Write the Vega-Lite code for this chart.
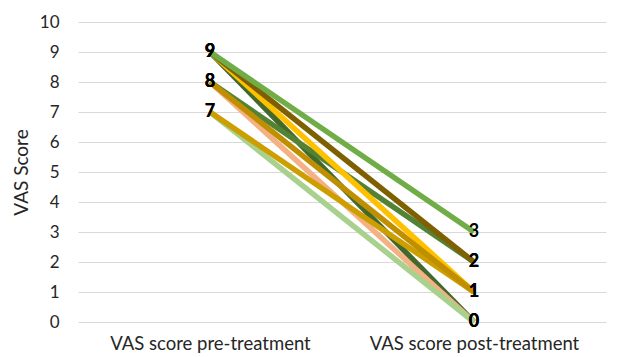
{
  "$schema": "https://vega.github.io/schema/vega-lite/v6.json",
  "width": 528,
  "height": 300,
  "autosize": "none",
  "padding": {"left": 78, "top": 22, "right": 16, "bottom": 35},
  "background": "white",
  "config": {
    "font": "Lato",
    "view": {"stroke": null},
    "axis": {"labelFont": "Lato", "titleFont": "Lato", "labelColor": "#262626", "titleColor": "#262626"}
  },
  "data": {
    "values": [
      {"s": "S1", "t": "VAS score pre-treatment", "v": 9},
      {"s": "S1", "t": "VAS score post-treatment", "v": 0},
      {"s": "S2", "t": "VAS score pre-treatment", "v": 8},
      {"s": "S2", "t": "VAS score post-treatment", "v": 2},
      {"s": "S3", "t": "VAS score pre-treatment", "v": 8},
      {"s": "S3", "t": "VAS score post-treatment", "v": 0},
      {"s": "S4", "t": "VAS score pre-treatment", "v": 7},
      {"s": "S4", "t": "VAS score post-treatment", "v": 0},
      {"s": "S5", "t": "VAS score pre-treatment", "v": 7},
      {"s": "S5", "t": "VAS score post-treatment", "v": 1},
      {"s": "S6", "t": "VAS score pre-treatment", "v": 9},
      {"s": "S6", "t": "VAS score post-treatment", "v": 1},
      {"s": "S7", "t": "VAS score pre-treatment", "v": 8},
      {"s": "S7", "t": "VAS score post-treatment", "v": 1},
      {"s": "S8", "t": "VAS score pre-treatment", "v": 9},
      {"s": "S8", "t": "VAS score post-treatment", "v": 2},
      {"s": "S9", "t": "VAS score pre-treatment", "v": 9},
      {"s": "S9", "t": "VAS score post-treatment", "v": 3}
    ]
  },
  "encoding": {
    "x": {
      "field": "t", "type": "nominal",
      "sort": ["VAS score pre-treatment", "VAS score post-treatment"],
      "scale": {"paddingInner": 0, "paddingOuter": 0},
      "axis": {"title": null, "labelAngle": 0, "labelFontSize": 18.5, "labelPadding": 12, "labelLimit": 400, "ticks": false, "domain": false, "grid": false}
    },
    "y": {
      "field": "v", "type": "quantitative",
      "scale": {"domain": [0, 10], "nice": false},
      "axis": {"title": "VAS Score", "titleFontSize": 19, "titleFontWeight": "normal", "titlePadding": 8, "labelFontSize": 17, "labelPadding": 19, "values": [0,1,2,3,4,5,6,7,8,9,10], "labelOverlap": false, "ticks": false, "domain": false, "grid": true, "gridColor": "#D9D9D9", "gridWidth": 1}
    }
  },
  "layer": [
    {
      "mark": {"type": "line", "strokeWidth": 5.5},
      "encoding": {
        "color": {
          "field": "s", "type": "nominal", "legend": null,
          "scale": {
            "domain": ["S1", "S2", "S3", "S4", "S5", "S6", "S7", "S8", "S9"],
            "range": ["#43682B", "#548235", "#F4B183", "#A9D18E", "#CC9E00", "#FFC000", "#BF8F00", "#7F6000", "#70AD47"]
          }
        }
      }
    },
    {
      "mark": {"type": "text", "fontSize": 18, "fontWeight": "bold", "color": "#000000", "baseline": "middle", "align": "center"},
      "encoding": {"text": {"field": "v", "type": "quantitative"}}
    }
  ]
}
